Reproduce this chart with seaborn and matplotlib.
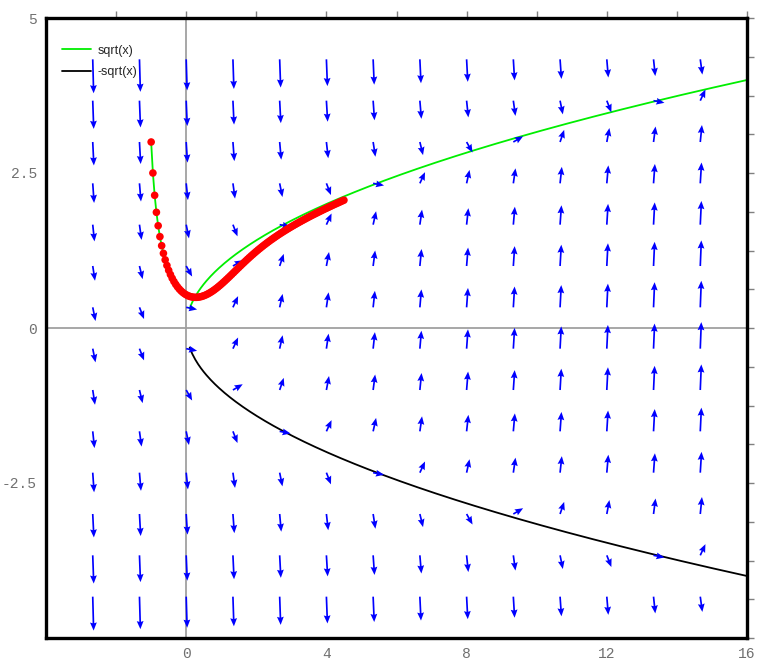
import numpy as np
import pandas as pd
import matplotlib
matplotlib.use("Agg")
import matplotlib.pyplot as plt
import seaborn as sns

# Slope field of dy/dx = x - y^2 with the nullcline branches y = ±sqrt(x)
def slope(x, y):
    return x - y ** 2

# grid of direction-field sample points
grid_x = np.linspace(-4, 16, 16)[1:-1]
grid_y = np.linspace(-5, 5, 16)[1:-1]

# nullcline curves
curve_x = np.linspace(0.1, 16, 400)
upper_y = np.sqrt(curve_x)
lower_y = -np.sqrt(curve_x)

# Euler solution through (-1, 3), step 0.05 up to x = 4.5
x0, y0, step, x_end = -1.0, 3.0, 0.05, 4.5
n_steps = int(round((x_end - x0) / step))
sol_x = [x0]
sol_y = [y0]
for _ in range(n_steps):
    sol_y.append(sol_y[-1] + step * slope(sol_x[-1], sol_y[-1]))
    sol_x.append(sol_x[-1] + step)

sns.set_style("white")
plt.rcParams["font.family"] = ["Liberation Sans", "DejaVu Sans"]

W, H, DPI = 757, 664, 100
fig = plt.figure(figsize=(W / DPI, H / DPI), dpi=DPI)
ax = fig.add_axes([46 / W, 1 - 638 / H, 701 / W, 620 / H])
ax.set_xlim(-4, 16)
ax.set_ylim(-5, 5)

# coordinate axes through the origin
ax.axhline(0, color="#a0a0a0", lw=1.3, zorder=1)
ax.axvline(0, color="#a0a0a0", lw=1.3, zorder=1)

# direction field: arrow direction follows (1, f) in data space,
# arrow length grows with |f|
GX, GY = np.meshgrid(grid_x, grid_y)
F = slope(GX, GY)
norm = np.sqrt(1 + F ** 2)
length_px = 11 + 1.07 * np.abs(F)
U = length_px / norm
V = length_px * F / norm
ax.quiver(GX, GY, U, V, angles="xy", scale_units="dots", scale=1,
          units="dots", width=1.7, headwidth=4.0, headlength=4.8,
          headaxislength=4.3, color="#0000ff", zorder=3)

curves = pd.DataFrame({"x": np.concatenate([curve_x, curve_x]),
                       "y": np.concatenate([upper_y, lower_y]),
                       "curve": ["sqrt(x)"] * len(curve_x) + ["-sqrt(x)"] * len(curve_x)})
sns.lineplot(data=curves, x="x", y="y", hue="curve", sort=False,
             palette={"sqrt(x)": "#00ee00", "-sqrt(x)": "#000000"},
             lw=1.3, ax=ax, zorder=2)

sol = pd.DataFrame({"x": sol_x, "y": sol_y})
ax.plot(sol["x"], sol["y"], color="#00ee00", lw=1.3, zorder=4)
sns.scatterplot(data=sol, x="x", y="y", color="#ff0000", s=30,
                edgecolor="none", ax=ax, zorder=5, legend=False)

leg = ax.legend(loc="upper left", frameon=False, fontsize=9,
                handlelength=2.3, handletextpad=0.5, labelspacing=0.75,
                bbox_to_anchor=(0.007, 0.975))

ax.set_xlabel("")
ax.set_ylabel("")
ax.set_xticks(np.arange(-2, 16.1, 2))
ax.set_xticklabels(["" if v % 4 else f"{int(v)}" for v in np.arange(-2, 16.1, 2)])
yt = np.arange(-5, 5.01, 0.625)
ax.set_yticks(yt)
ylab = {5.0: "5", 2.5: "2.5", 0.0: "0", -2.5: "-2.5"}
ax.set_yticklabels([ylab.get(round(v, 3), "") for v in yt])
ax.tick_params(axis="both", which="both", direction="out", length=5,
               width=1, color="#808080", labelcolor="#707070",
               top=True, right=True, labelsize=10.5, pad=1.5)
for lab in ax.get_xticklabels() + ax.get_yticklabels():
    lab.set_family(["Liberation Mono", "DejaVu Sans Mono"])
for sp in ax.spines.values():
    sp.set_visible(True)
    sp.set_color("black")
    sp.set_linewidth(2.4)

fig.savefig("out.png", dpi=DPI)
